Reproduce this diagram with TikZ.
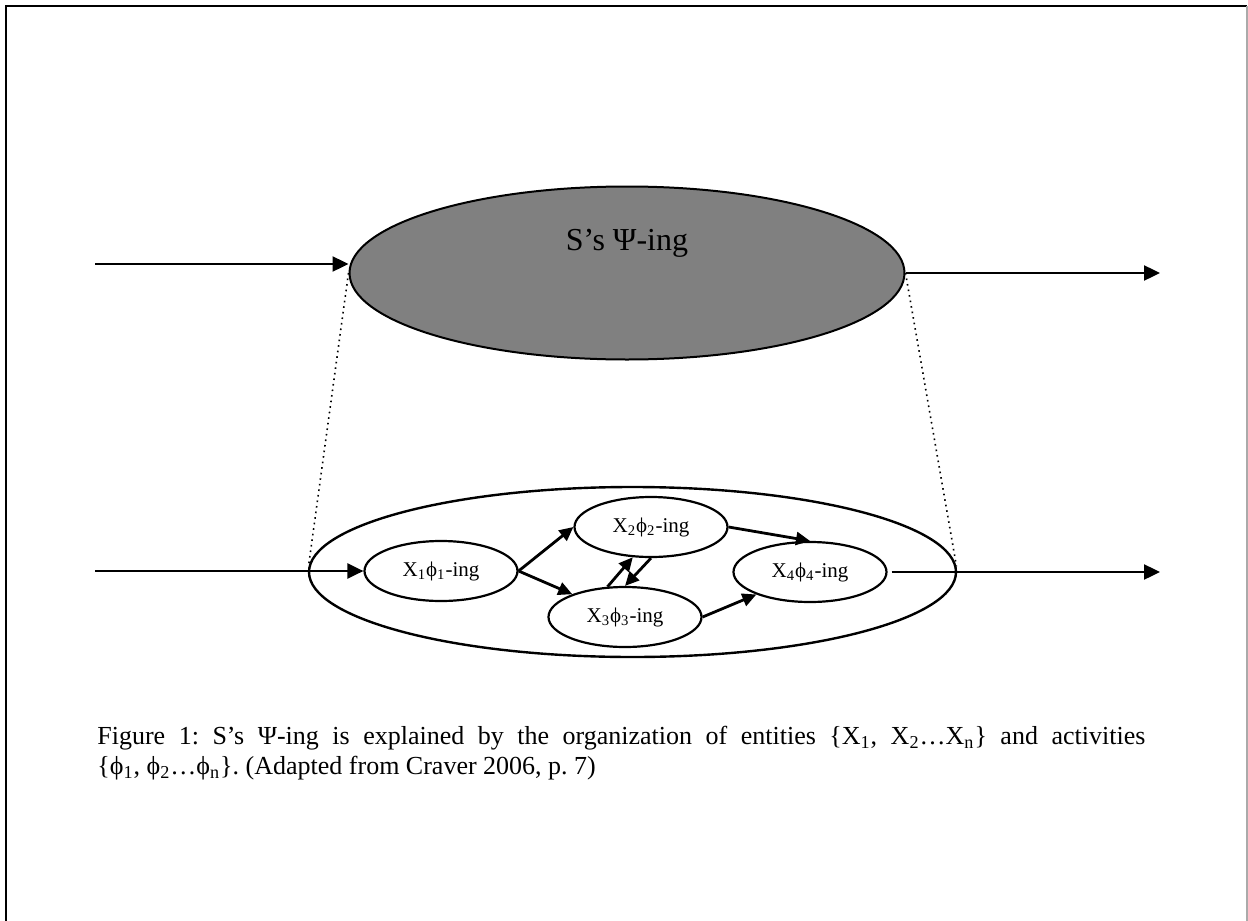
\documentclass[tikz,border=0pt]{standalone}
\usepackage{fontspec}
\setmainfont{Liberation Serif}
\usetikzlibrary{arrows.meta,shapes.geometric}
\definecolor{psiGray}{RGB}{128,128,128}
\definecolor{frameGray}{RGB}{170,170,170}
\tikzset{
  system/.style={draw, ellipse, line width=1pt, fill=psiGray, inner sep=0pt, minimum width=277.5pt, minimum height=86.5pt},
  mechbox/.style={draw, ellipse, line width=1.2pt, inner sep=0pt, minimum width=323.5pt, minimum height=85pt},
  act/.style={draw, ellipse, line width=1.1pt, inner sep=0pt, minimum width=76.5pt, minimum height=30pt, font=\fontsize{10.5}{12.5}\selectfont},
  arrow/.style={-{Triangle[length=8pt, width=7.5pt]}, line width=1.2pt},
  link/.style={-{Triangle[length=7pt, width=6.5pt]}, line width=1.4pt},
  zoomline/.style={dotted, line width=0.8pt},
  note/.style={anchor=north west, inner sep=0pt, text width=524pt, align=justify, font=\fontsize{13}{15}\selectfont\frenchspacing}
}
\newcommand{\xing}[1]{X\textsubscript{#1}ϕ\textsubscript{#1}-ing}

\begin{document}
\begin{tikzpicture}[x=0.5pt, y=-0.5pt]
  \useasboundingbox (0,0) rectangle (1248,921);
  % page frame
  \draw[line width=1.3pt] (6,921) -- (6,6) -- (1247,6);
  \draw[frameGray, line width=0.6pt] (1247,6) -- (1247,921);

  % phenomenon and mechanism
  \node[system, label={[font=\fontsize{16}{19}\selectfont, yshift=15pt]center:S’s Ψ-ing}] (phen) at (627,273) {};
  \node[mechbox] (mech) at (632.5,572) {};

  \node[act] (x1) at (441,571) {\xing{1}};
  \node[act] (x2) at (651,527) {\xing{2}};
  \node[act] (x3) at (625,617) {\xing{3}};
  \node[act] (x4) at (810,572) {\xing{4}};

  \coordinate (inTop) at (95,264);
  \coordinate (outTop) at (1160,273);
  \coordinate (inBot) at (95,571);
  \coordinate (outBot) at (1160,572);

  \draw[arrow] (inTop) -- (inTop -| phen.west);
  \draw[arrow] (phen.east) -- (outTop);
  \draw[zoomline] (phen.west) -- (mech.179);
  \draw[zoomline] (phen.east) -- (mech.1);

  \draw[arrow] (inBot) -- (x1);
  \draw[arrow, shorten <=2pt] (x4.east) -- (outBot);

  \draw[link] (x1.east) -- (x2.west);
  \draw[link] (x1.east) -- (x3);
  \draw[link] (x2.east) -- (x4.north);
  \draw[link] (x3.east) -- (x4);
  \draw[link] (x3.120) -- (x2.239);
  \draw[link] (x2.south) -- (x3.north);

  % caption
  \node[note] (cap) at (97,726) {Figure 1: S’s Ψ-ing is explained by the organization of entities \{X\textsubscript{1}, X\textsubscript{2}…X\textsubscript{n}\} and activities\linebreak \{ϕ\textsubscript{1}, ϕ\textsubscript{2}…ϕ\textsubscript{n}\}. (Adapted from Craver 2006, p. 7)};
\end{tikzpicture}
\end{document}
